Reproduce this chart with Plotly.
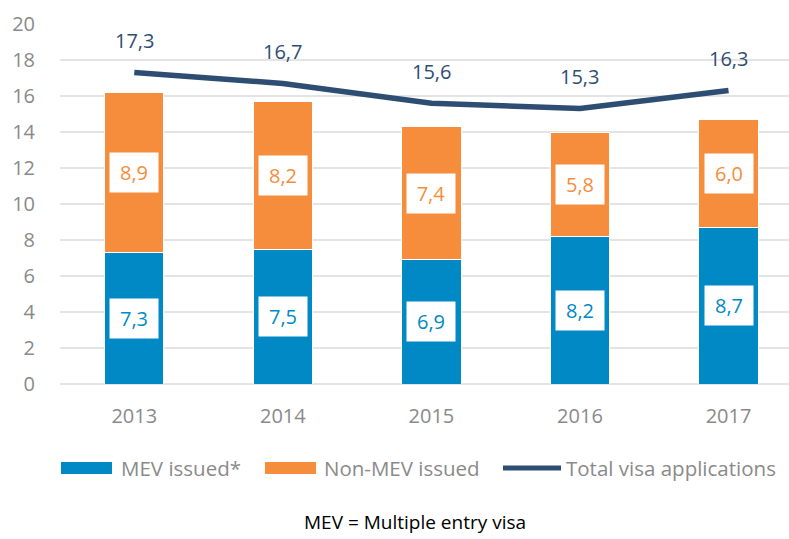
import plotly.graph_objects as go

years = ["2013", "2014", "2015", "2016", "2017"]
mev_issued = [7.3, 7.5, 6.9, 8.2, 8.7]
non_mev_issued = [8.9, 8.2, 7.4, 5.8, 6.0]
total_applications = [17.3, 16.7, 15.6, 15.3, 16.3]
series_names = ["MEV issued*", "Non-MEV issued", "Total visa applications"]
y_ticks = [0, 2, 4, 6, 8, 10, 12, 14, 16, 18, 20]
footnote = "MEV = Multiple entry visa"

BLUE = "#0089C4"
ORANGE = "#F58D3C"
NAVY = "#2E4D72"
GRAY = "#8A8A8A"
FONT = "Open Sans"

# plot area in pixels (for converting legend placement to paper coords)
L, R, T, B = 60, 789, 24, 384
def px(x):
    return (x - L) / (R - L)
def py(y):
    return (B - y) / (B - T)

def fmt(v):
    return f"{v:.1f}".replace(".", ",")

fig = go.Figure()
fig.add_trace(go.Bar(x=years, y=mev_issued, name=series_names[0],
                     marker=dict(color=BLUE, line=dict(color="white", width=1))))
fig.add_trace(go.Bar(x=years, y=non_mev_issued, name=series_names[1],
                     marker=dict(color=ORANGE, line=dict(color="white", width=1))))
fig.add_trace(go.Scatter(x=years, y=total_applications, name=series_names[2],
                         mode="lines", line=dict(color=NAVY, width=5.5)))

annotations = []
for i, (m, n, t) in enumerate(zip(mev_issued, non_mev_issued, total_applications)):
    annotations.append(dict(xref="x", yref="y", x=i, y=m / 2, text=fmt(m), showarrow=False,
                            bgcolor="white", width=46, height=37,
                            font=dict(color=BLUE, size=20, family=FONT)))
    annotations.append(dict(xref="x", yref="y", x=i, y=m + n / 2, text=fmt(n), showarrow=False,
                            bgcolor="white", width=46, height=37,
                            font=dict(color=ORANGE, size=20, family=FONT)))
    annotations.append(dict(xref="x", yref="y", x=i, y=t, text=fmt(t), showarrow=False, yshift=32,
                            font=dict(color=NAVY, size=20, family=FONT)))

# custom legend (wide swatches like the original)
shapes = []
legend_y = 468
swatches = [(61, 112, BLUE, "rect"), (265, 316, ORANGE, "rect"), (503, 561, NAVY, "line")]
text_x = [119, 322, 564]
for (x0, x1, col, kind), tx, name in zip(swatches, text_x, series_names):
    if kind == "rect":
        shapes.append(dict(type="rect", xref="paper", yref="paper",
                           x0=px(x0), x1=px(x1), y0=py(legend_y + 6), y1=py(legend_y - 6),
                           fillcolor=col, line=dict(width=0)))
    else:
        shapes.append(dict(type="line", xref="paper", yref="paper",
                           x0=px(x0), x1=px(x1), y0=py(legend_y), y1=py(legend_y),
                           line=dict(color=col, width=5)))
    annotations.append(dict(xref="paper", yref="paper", x=px(tx), y=py(legend_y),
                            text=name, showarrow=False, xanchor="left", yanchor="middle",
                            font=dict(color=GRAY, size=20.5, family=FONT)))

annotations.append(dict(xref="paper", yref="paper", x=px(414.5), y=py(522),
                        text=footnote, showarrow=False,
                        xanchor="center", yanchor="middle",
                        font=dict(color="black", size=19, family=FONT)))

fig.update_layout(
    barmode="stack",
    bargap=0.6,
    width=789, height=539,
    margin=dict(l=L, r=789 - R, t=T, b=539 - B, autoexpand=False),
    plot_bgcolor="white", paper_bgcolor="white",
    font=dict(family=FONT, color=GRAY, size=18),
    showlegend=False,
    annotations=annotations,
    shapes=shapes,
    xaxis=dict(type="category", range=[-0.5, 4.407], showgrid=False, showline=False,
               automargin=False,
               ticks="outside", ticklen=14, tickcolor="rgba(0,0,0,0)",
               tickfont=dict(size=20, color=GRAY, family=FONT)),
    yaxis=dict(range=[0, 20], tickvals=y_ticks, showgrid=True, gridcolor="#E4E4E4",
               gridwidth=1.5, zeroline=True, zerolinecolor="#E4E4E4", zerolinewidth=1.5,
               automargin=False,
               ticks="outside", ticklen=20, tickcolor="rgba(0,0,0,0)",
               tickfont=dict(size=20, color=GRAY, family=FONT)),
)

fig.write_html("out.html", config={"displayModeBar": False},
               post_script="document.body.style.margin='0px';")
